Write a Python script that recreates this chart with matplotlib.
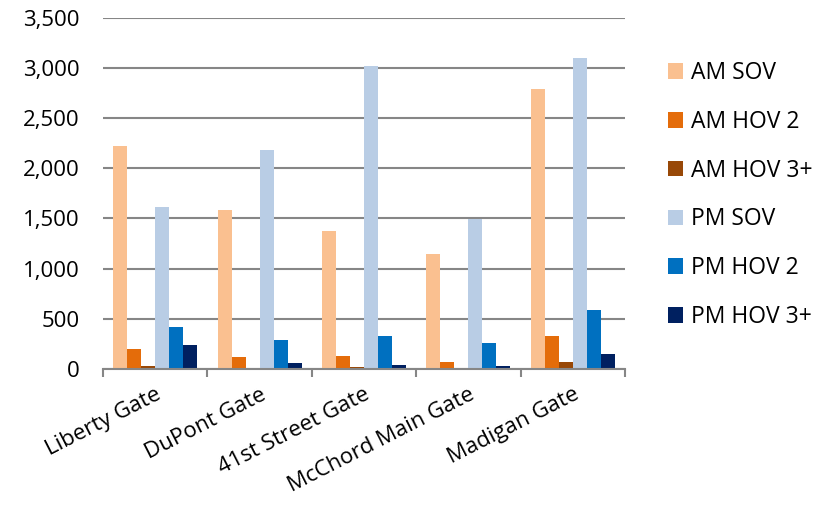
import numpy as np
import matplotlib.pyplot as plt
from matplotlib.patches import Patch
from matplotlib.ticker import MultipleLocator, FuncFormatter, FixedLocator

plt.rcParams['font.family'] = ['Open Sans', 'DejaVu Sans']

# data
gates = ["Liberty Gate", "DuPont Gate", "41st Street Gate", "McChord Main Gate", "Madigan Gate"]
series_names = ["AM SOV", "AM HOV 2", "AM HOV 3+", "PM SOV", "PM HOV 2", "PM HOV 3+"]
am_sov = [2220, 1580, 1370, 1140, 2790]
am_hov2 = [200, 117, 125, 63, 326]
am_hov3 = [30, 10, 20, 5, 70]
pm_sov = [1610, 2185, 3020, 1490, 3100]
pm_hov2 = [412, 288, 332, 259, 589]
pm_hov3 = [236, 57, 33, 27, 150]
colors = ["#FAC090", "#E46C0A", "#984807", "#B9CDE5", "#0070C0", "#002060"]

series = [am_sov, am_hov2, am_hov3, pm_sov, pm_hov2, pm_hov3]

fig = plt.figure(figsize=(8.31, 5.08), dpi=100)
ax = fig.add_axes([0.124, 0.274, 0.628, 0.691])

x = np.arange(len(gates))
width = 0.134
for i, vals in enumerate(series):
    offset = (i - 2.5) * width
    ax.bar(x + offset, vals, width=width, color=colors[i], zorder=3,
           label=series_names[i])

ax.set_xlim(-0.5, len(gates) - 0.5)
ax.set_ylim(0, 3500)
ax.yaxis.set_major_locator(MultipleLocator(500))
ax.yaxis.set_major_formatter(FuncFormatter(lambda v, p: "{:,.0f}".format(v)))
ax.grid(axis="y", color="#868686", linewidth=1.5, zorder=0)

for s in ["left", "right", "top"]:
    ax.spines[s].set_visible(False)
ax.spines["bottom"].set_color("#868686")
ax.spines["bottom"].set_linewidth(1.5)
ax.spines["bottom"].set_zorder(4)

ax.tick_params(axis="y", length=0, labelsize=16, pad=17)
# category boundary ticks
ax.xaxis.set_major_locator(FixedLocator(np.arange(-0.5, len(gates), 1.0)))
ax.xaxis.set_major_formatter(FuncFormatter(lambda v, p: ""))
ax.xaxis.set_minor_locator(FixedLocator(x))
ax.set_xticklabels(gates, minor=True, rotation=27, ha="right",
                   rotation_mode="anchor", fontsize=16)
ax.tick_params(axis="x", which="major", length=6, width=1.5, color="#868686")
ax.tick_params(axis="x", which="minor", length=0, pad=11)

handles = [Patch(facecolor=c, label=n) for c, n in zip(colors, series_names)]
fig.legend(handles=handles, loc="center left", bbox_to_anchor=(0.793, 0.616),
           borderaxespad=0, frameon=False, fontsize=16.5, handlelength=0.65,
           handleheight=0.65, handletextpad=0.35, labelspacing=1.08)

fig.savefig("out.png", dpi=100)
